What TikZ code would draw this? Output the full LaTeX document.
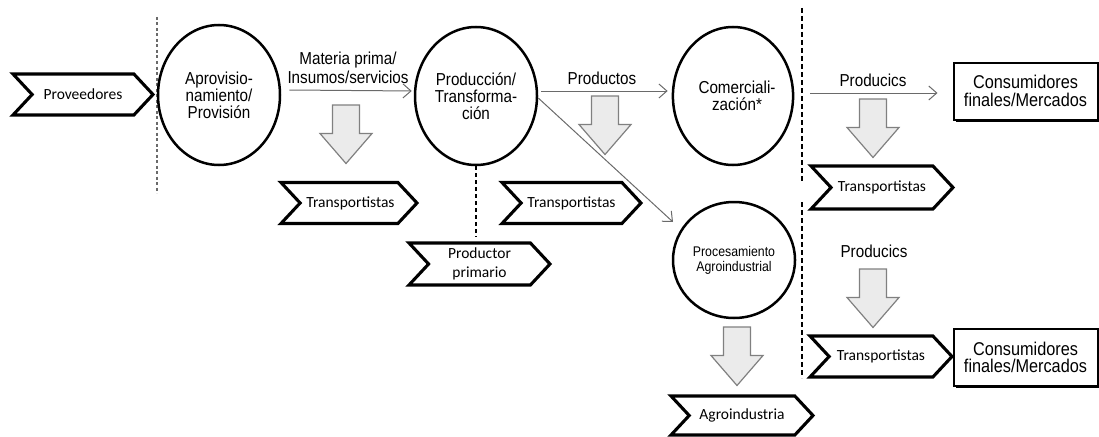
\documentclass[tikz,border=0pt]{standalone}
\usepackage{fontspec}
\setmainfont{Liberation Sans}
\newfontfamily\arn[FakeStretch=0.88]{Liberation Sans}
\newfontfamily\calf{Carlito}
\usetikzlibrary{shapes.geometric,shapes.symbols,arrows.meta,shadows}
\definecolor{conn}{HTML}{6A6A6A}
\definecolor{barrfill}{HTML}{EBEBEB}
\definecolor{barrline}{HTML}{808080}
\begin{document}
\begin{tikzpicture}[x=1pt,y=-1pt,
  chev/.style={shape=signal, signal from=west, signal to=east, signal pointer angle=94,
    draw=black, line width=3.1pt, fill=white, inner sep=0pt,
    minimum width=140pt, minimum height=41pt,
    font=\calf\fontsize{15.5}{19}\selectfont, align=center},
  stage/.style={ellipse, draw=black, line width=2.5pt, fill=white, inner sep=0pt,
    align=center, font=\arn\fontsize{17.3}{17}\selectfont},
  conbox/.style={rectangle, draw=black, line width=2pt, fill=white,
    minimum width=144pt, minimum height=57pt, align=center,
    font=\arn\fontsize{18.5}{17.5}\selectfont,
    drop shadow={shadow xshift=2pt, shadow yshift=-2pt, fill=black, opacity=1}},
  flow/.style={draw=conn, line width=1pt, -{Straight Barb[length=8pt,width=14pt]}},
  lbl/.style={font=\arn\fontsize{17.3}{19}\selectfont, align=center, inner sep=0pt},
  sep/.style={dash pattern=on 5pt off 3pt, line width=1.4pt},
  pics/blockarr/.style={code={\draw[fill=barrfill, draw=barrline, line width=1.2pt]
    (-13.5,0) -- (13.5,0) -- (13.5,28.5) -- (26,28.5) -- (0,58.5) -- (-26,28.5) -- (-13.5,28.5) -- cycle;}}
]
\useasboundingbox (0,0) rectangle (1099,436);

% separators
\draw[sep, draw=conn, line width=1.3pt, dash pattern=on 3pt off 2.5pt] (157,17) -- (157,193);
\draw[sep] (802,8) -- (802,183);
\draw[sep] (802,202) -- (802,378);

% block arrows
\pic at (346,105) {blockarr};
\pic at (605,96) {blockarr};
\pic at (873,99) {blockarr};
\pic at (737,327) {blockarr};
\pic at (873,269) {blockarr};

% chevrons
\node[chev] (prov) at (83,94.5) {Proveedores};
\node[chev, minimum width=136pt] (tr1) at (349,203) {\hspace*{3pt}Transportistas};
\node[chev, minimum width=139pt] (tr2) at (571.5,203) {Transportistas};
\node[chev, minimum width=142pt, minimum height=43pt] (tr3) at (882,187.5) {Transportistas};
\node[chev, minimum width=142pt] (tr4) at (881,356.5) {Transportistas};
\node[chev, minimum width=141pt, minimum height=42pt] (prim) at (479.5,264) {Productor\\primario};
\node[chev, minimum width=142pt, minimum height=39pt] (agro) at (742,415.5) {Agroindustria};

% stages
\node[stage, minimum width=122pt, minimum height=140pt] (aprov) at (219,95) {Aprovisio-\\namiento/\\Provisión};
\node[stage, minimum width=122pt, minimum height=138pt] (prod) at (476,96) {Producción/\\Transforma-\\ción};
\node[stage, minimum width=120pt, minimum height=138pt] (com) at (733,96) {\hspace*{8pt}Comerciali-\\\hspace*{8pt}zación*};
\node[stage, minimum width=122pt, minimum height=116pt, font=\arn\fontsize{14}{15}\selectfont] (proc) at (734,260) {Procesamiento\\Agroindustrial};

% consumer boxes
\node[conbox] (cons1) at (1025.5,91) {Consumidores\\finales/Mercados};
\node[conbox] (cons2) at (1025.5,357.5) {Consumidores\\finales/Mercados};

% labels
\node[lbl] (lmat) at (348,68) {Materia prima/\\Insumos/servicios};
\node[lbl, anchor=base] (lprod) at (602,84) {Productos};
\node[lbl, anchor=base] (lpr1) at (873,86) {Producics};
\node[lbl, anchor=base] (lpr2) at (874,257) {Producics};

% connectors
\draw[flow, shorten >=2pt] ([xshift=8pt,yshift=5pt]aprov.east) -- ([yshift=5pt]prod.west);
\draw[flow, shorten >=4pt] ([xshift=3pt,yshift=5pt]prod.east) -- ([yshift=5pt]com.west);
\draw[flow, shorten >=15pt] ([xshift=16pt,yshift=3pt]com.east) -- ([yshift=-2pt]cons1.west);
\draw[flow] ([yshift=-2pt]prod.east) -- ([xshift=-61pt,yshift=38pt]proc.center);
\draw[line width=1.2pt, dash pattern=on 4pt off 3pt, shorten >=5pt] (prod.south) -- (prod.south |- prim.north);
\end{tikzpicture}
\end{document}
